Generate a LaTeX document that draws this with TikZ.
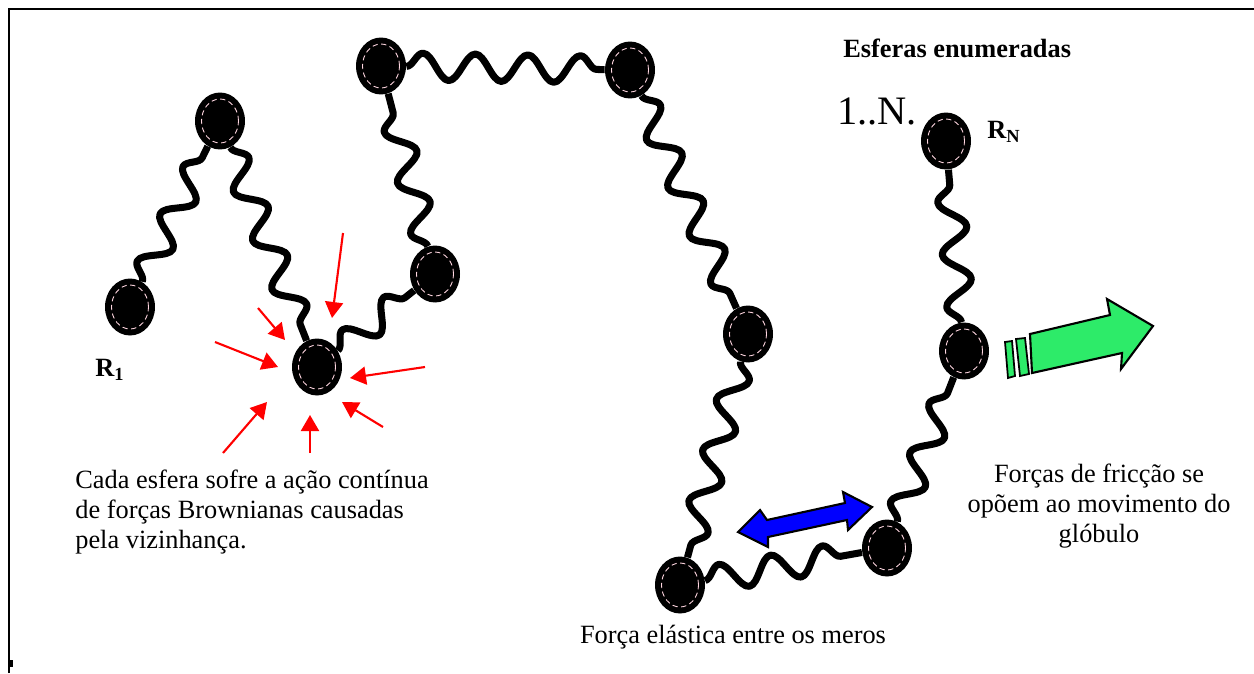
\documentclass[tikz,border=0pt]{standalone}
\usepackage{fontspec}
\setmainfont{Liberation Serif}
\usepackage{tikz}
\usetikzlibrary{arrows.meta,shapes.geometric,decorations.pathmorphing,calc}

\definecolor{pushred}{RGB}{255,0,0}
\definecolor{frictiongreen}{RGB}{45,235,105}
\definecolor{springblue}{RGB}{0,0,255}
\definecolor{ringpink}{RGB}{255,215,225}

\begin{document}
\begin{tikzpicture}[x=0.02cm, y=-0.02cm, >={Triangle[length=0.32cm,width=0.36cm]},
    bead/.style={ellipse, fill=black, inner sep=0pt, minimum width=1cm, minimum height=1.14cm,
        path picture={\draw[ringpink, densely dashed, line width=0.5pt] (path picture bounding box.center) ellipse (0.37cm and 0.44cm);}},
    spring/.style={line width=4pt, line join=round, decorate, decoration={snake, segment length=1.05cm, amplitude=0.27cm}},
    push/.style={->, pushred, line width=1.2pt},
    txt/.style={font=\fontsize{15}{17}\selectfont, inner sep=0pt}]
    \useasboundingbox (0,0) rectangle (1254,673);

    % frame
    \draw[line width=1.7pt] (9,673) -- (9,9) -- (1254,9);
    \fill (8,660) rectangle (13,667);

    % the chain of spheres
    \node[bead] (m1) at (130,307) {};
    \node[bead] (m2) at (220,121) {};
    \node[bead] (m3) at (317,367) {};
    \node[bead] (m4) at (435,274) {};
    \node[bead] (m5) at (381,66) {};
    \node[bead] (m6) at (630,70) {};
    \node[bead] (m7) at (748,334) {};
    \node[bead] (m8) at (680,585) {};
    \node[bead] (m9) at (887,548) {};
    \node[bead] (m10) at (964,351) {};
    \node[bead] (m11) at (946,141) {};

    \draw[spring] (m1) -- (m2);
    \draw[spring] (m2) -- (m3);
    \draw[spring] (m3) -- (m4);
    \draw[spring] (m4) -- (m5);
    \draw[spring] (m5) -- (m6);
    \draw[spring] (m6) -- (m7);
    \draw[spring] (m7) -- (m8);
    \draw[spring] (m8) -- (m9);
    \draw[spring] (m9) -- (m10);
    \draw[spring] (m10) -- (m11);

    % brownian kicks on one sphere
    \draw[push] ($(m3)+(26,-134)$) -- ($(m3)+(15,-49)$);
    \draw[push] ($(m3)+(-59,-59)$) -- ($(m3)+(-32,-27)$);
    \draw[push] ($(m3)+(-102,-25)$) -- ($(m3)+(-39,0)$);
    \draw[push] ($(m3)+(108,0)$) -- ($(m3)+(33,11)$);
    \draw[push] ($(m3)+(66,60)$) -- ($(m3)+(25,35)$);
    \draw[push] ($(m3)+(-7,86)$) -- ($(m3)+(-7,48)$);
    \draw[push] ($(m3)+(-94,86)$) -- ($(m3)+(-50,35)$);

    % elastic force
    \filldraw[fill=springblue, line width=1.2pt] (738,532) -- (760,510) -- (767,520) -- (845,503) -- (843,492)
        -- (872,507) -- (848,530) -- (847,520) -- (768,537) -- (768,547) -- cycle;

    % friction
    \filldraw[fill=frictiongreen, line width=1.2pt] (1032,373) -- (1030,334) -- (1110,315) -- (1107,299)
        -- (1153,326) -- (1121,369) -- (1122,353) -- cycle;
    \filldraw[fill=frictiongreen, line width=1pt] (1005,342) -- (1012,341) -- (1015,376) -- (1008,378) -- cycle;
    \filldraw[fill=frictiongreen, line width=1pt] (1016,339) -- (1025,338) -- (1029,374) -- (1020,376) -- cycle;

    % labels
    \node[txt] (r1) at (110,370) {\textbf{R\textsubscript{1}}};
    \node[txt] (rn) at (1004,132) {\textbf{R\textsubscript{N}}};
    \node[txt, anchor=west, font=\fontsize{23}{25}\selectfont] (count) at (837,111) {1..N.};
    \node[txt, anchor=west, font=\fontsize{15}{17}\selectfont\bfseries] (title) at (843,48) {Esferas enumeradas};
    \node[txt, anchor=west, align=left] (brown) at (75,512) {Cada esfera sofre a ação contínua\\de forças Brownianas causadas\\pela vizinhança.};
    \node[txt, align=center] (fric) at (1099,506) {Forças de fricção se\\opõem ao movimento do\\glóbulo};
    \node[txt] (elast) at (733,637) {Força elástica entre os meros};
\end{tikzpicture}
\end{document}
